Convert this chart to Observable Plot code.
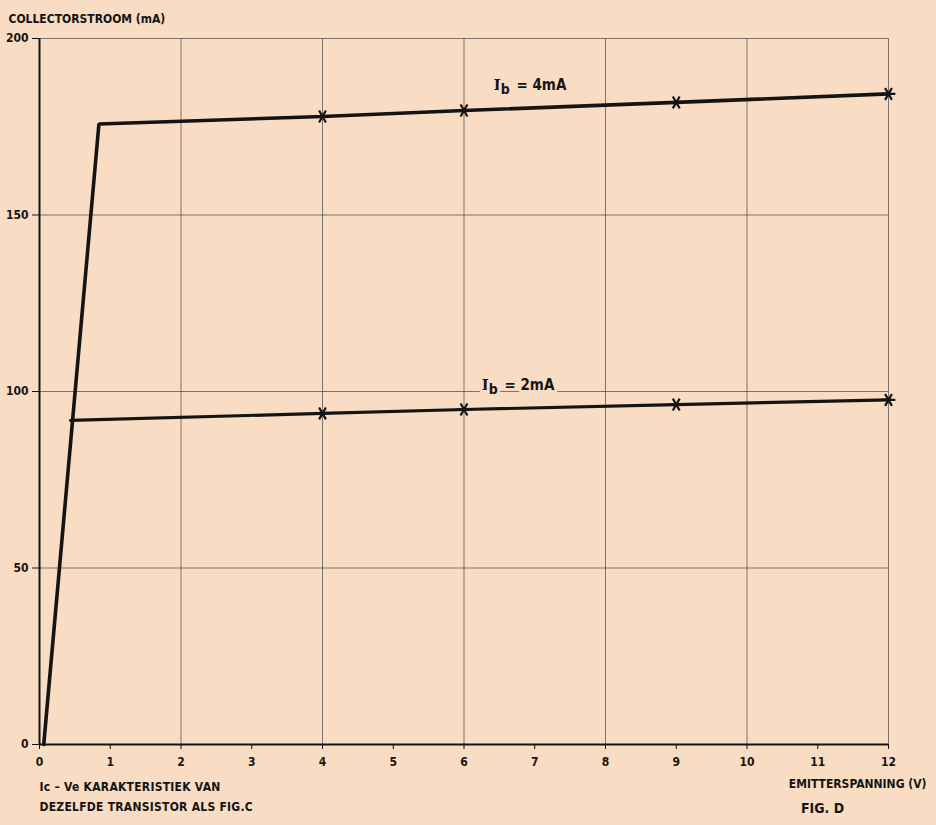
<!DOCTYPE html>
<html>
<head>
<meta charset="utf-8">
<script src="https://cdn.jsdelivr.net/npm/d3@7"></script>
<script src="https://cdn.jsdelivr.net/npm/@observablehq/plot@0.6"></script>
<style>
  html, body { margin: 0; padding: 0; background: #f8dcc4; }
  #chart svg { display: block; }
</style>
</head>
<body>
<div id="chart"></div>
<script>
// ---- data ----
const xTicks = [0,1,2,3,4,5,6,7,8,9,10,11,12];
const xGrid = [2,4,6,8,10,12];
const yTicks = [0,50,100,150,200];
const yGrid = [50,100,150,200];

const ib4X = [0.06, 0.84, 4, 6, 9, 12];
const ib4Y = [0, 175.8, 177.9, 179.6, 181.9, 184.3];
const ib2X = [0.44, 4, 6, 9, 12];
const ib2Y = [91.8, 93.8, 94.9, 96.3, 97.6];
const markerX = [4, 6, 9, 12];

const curveLabels = ["Ib=4mA", "Ib=2mA"];
const labelX = [6.42, 6.25];
const labelY = [186.7, 101.7];

const yTitle = "COLLECTORSTROOM (mA)";
const xTitle = "EMITTERSPANNING (V)";
const captionLines = ["Ic – Ve KARAKTERISTIEK VAN", "DEZELFDE TRANSISTOR ALS FIG.C"];
const figLabel = "FIG. D";

// ---- tables ----
const ib4 = ib4X.map((x, i) => ({x, y: ib4Y[i]}));
const ib2 = ib2X.map((x, i) => ({x, y: ib2Y[i]}));
const marks4 = ib4.filter(d => markerX.includes(d.x));
const marks2 = ib2.filter(d => markerX.includes(d.x));
const labels = curveLabels.map((t, i) => ({t, x: labelX[i], y: labelY[i]}));

const bg = "#f8dcc4";
const ink = "#161412";
const font = "'DejaVu Sans Condensed', 'DejaVu Sans', sans-serif";

const chart = Plot.plot({
  width: 936,
  height: 825,
  marginLeft: 39,
  marginRight: 48,
  marginTop: 38,
  marginBottom: 81,
  style: {background: bg, fontFamily: font, fontWeight: "bold", color: ink, fontSize: "12px"},
  x: {domain: [0, 12], ticks: xTicks, tickSize: 5, tickPadding: 8, label: null, tickFormat: d => String(d)},
  y: {domain: [0, 200], ticks: yTicks, tickSize: 7, tickPadding: 5, label: null},
  marks: [
    Plot.gridX(xGrid, {stroke: "#3a3a3a", strokeOpacity: 0.65, strokeWidth: 1}),
    Plot.gridY(yGrid, {stroke: "#3a3a3a", strokeOpacity: 0.65, strokeWidth: 1}),
    Plot.axisX({ticks: xTicks, tickSize: 5, tickPadding: 8, fontSize: 12, fontWeight: "bold", stroke: ink}),
    Plot.axisY({ticks: yTicks, tickSize: 7, tickPadding: 4, fontSize: 12, fontWeight: "bold", stroke: ink}),
    Plot.ruleX([0], {stroke: ink, strokeWidth: 2}),
    Plot.ruleY([0], {stroke: ink, strokeWidth: 2}),
    Plot.line(ib4, {x: "x", y: "y", stroke: ink, strokeWidth: 3.6, strokeLinejoin: "miter"}),
    Plot.line(ib2, {x: "x", y: "y", stroke: ink, strokeWidth: 3.2}),
    Plot.dot(marks4, {x: "x", y: "y", symbol: "asterisk", rotate: 90, r: 6.5, stroke: ink, strokeWidth: 2.2}),
    Plot.dot(marks2, {x: "x", y: "y", symbol: "asterisk", rotate: 90, r: 6.5, stroke: ink, strokeWidth: 2.2}),
    Plot.text(labels, {x: "x", y: "y", text: "t", textAnchor: "start", fontSize: 15, fontWeight: "bold", fill: ink, stroke: bg, strokeWidth: 6, className: "curve-label"}),
    Plot.text([yTitle], {frameAnchor: "top-left", dx: -31, dy: -24, textAnchor: "start", fontSize: 12, fontWeight: "bold", fill: ink}),
    Plot.text([captionLines[0]], {frameAnchor: "bottom-left", dx: 0, dy: 46, textAnchor: "start", fontSize: 12, fontWeight: "bold", fill: ink, className: "spaced"}),
    Plot.text([captionLines[1]], {frameAnchor: "bottom-left", dx: 0, dy: 66, textAnchor: "start", fontSize: 12, fontWeight: "bold", fill: ink, className: "spaced"}),
    Plot.text([xTitle], {frameAnchor: "bottom-right", dx: 38, dy: 43, textAnchor: "end", fontSize: 12, fontWeight: "bold", fill: ink}),
    Plot.text([figLabel], {frameAnchor: "bottom-right", dx: -66, dy: 68, textAnchor: "middle", fontSize: 14, fontWeight: "bold", fill: ink})
  ]
});

d3.select(chart).selectAll(".spaced text").attr("letter-spacing", 0.25);

// subscript "b" in the curve labels
d3.select(chart).selectAll(".curve-label text").each(function() {
  const t = this.textContent;
  if (!t.startsWith("Ib")) return;
  const el = d3.select(this);
  el.text(null);
  el.append("tspan").attr("font-family", "'DejaVu Serif', serif").text("I");
  el.append("tspan").attr("dy", "0.3em").attr("font-size", 14).text("b");
  el.append("tspan").attr("dy", "-0.3em").attr("dx", 2).text(t.slice(2).replace("=", " = "));
});

document.getElementById("chart").append(chart);
</script>
</body>
</html>
